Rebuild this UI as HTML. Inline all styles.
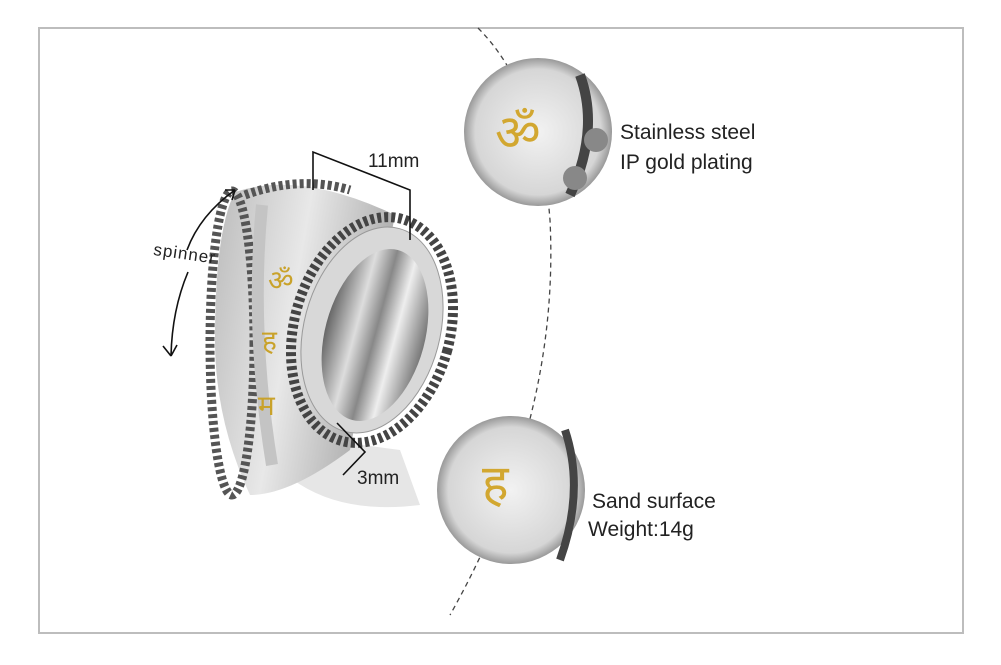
<!DOCTYPE html>
<html><head><meta charset="utf-8"><style>
body{margin:0;background:#fff;width:1001px;height:665px;overflow:hidden;font-family:"Liberation Sans",sans-serif}
.t{position:absolute;font-size:21px;color:#222}
</style></head><body>
<div style="position:absolute;left:38px;top:27px;width:922px;height:603px;border:2px solid #bdbdbd"></div>
<svg width="1001" height="665" style="position:absolute;left:0;top:0">
<defs>
<linearGradient id="band" x1="0" y1="0" x2="1" y2="0.3"><stop offset="0" stop-color="#bbb"/><stop offset=".5" stop-color="#e8e8e8"/><stop offset="1" stop-color="#aaa"/></linearGradient>
<linearGradient id="hole" x1="0" y1="0" x2="1" y2="0"><stop offset="0" stop-color="#666"/><stop offset=".3" stop-color="#ddd"/><stop offset=".5" stop-color="#888"/><stop offset=".7" stop-color="#eee"/><stop offset="1" stop-color="#777"/></linearGradient>
<radialGradient id="c1" cx=".5" cy=".5" r=".5"><stop offset="0" stop-color="#f2f2f2"/><stop offset=".85" stop-color="#d6d6d6"/><stop offset="1" stop-color="#999"/></radialGradient>
</defs>
<path d="M478 28 Q540 90 550 220 Q560 420 450 615" fill="none" stroke="#444" stroke-width="1.3" stroke-dasharray="5,4"/>
<path d="M250 430 Q300 520 420 505 L400 450 Z" fill="#e6e6e6"/>
<!-- ring body -->
<path d="M235 192 Q300 170 395 215 L350 450 Q290 495 250 495 Q215 420 215 340 Q215 230 235 192 Z" fill="url(#band)"/>
<ellipse cx="232" cy="343" rx="22" ry="152" fill="none" stroke="#555" stroke-width="9" stroke-dasharray="4,3"/>
<path d="M245 195 Q300 175 350 190" fill="none" stroke="#555" stroke-width="9" stroke-dasharray="4,3"/>
<path d="M262 205 Q250 330 272 465" fill="none" stroke="#c4c4c4" stroke-width="12"/>
<text x="268" y="290" font-size="28" fill="#c9a22a" font-family="serif">ॐ</text>
<text x="262" y="350" font-size="28" fill="#c9a22a" font-family="serif">ह</text>
<text x="258" y="415" font-size="28" fill="#c9a22a" font-family="serif">म</text>
<!-- right face -->
<ellipse cx="372" cy="330" rx="78" ry="115" transform="rotate(15 372 330)" fill="none" stroke="#444" stroke-width="10" stroke-dasharray="4,3"/>
<ellipse cx="372" cy="330" rx="68" ry="105" transform="rotate(15 372 330)" fill="#d8d8d8" stroke="#999"/>
<ellipse cx="375" cy="335" rx="50" ry="88" transform="rotate(15 375 335)" fill="url(#hole)"/>
<g stroke="#111" stroke-width="1.6" fill="none">
<path d="M313 190 L313 152 L410 190 L410 240"/>
<path d="M337 423 L365 452 L343 475"/>
<path d="M235 190 Q200 215 187 250 M235 190 l-10 0 M235 190 l-3 10"/>
<path d="M188 272 Q172 310 171 356 M171 356 l-8 -10 M171 356 l6 -11"/>
</g>
<circle cx="538" cy="132" r="74" fill="url(#c1)"/>
<path d="M580 75 Q600 130 570 195" stroke="#444" stroke-width="10" fill="none"/>
<circle cx="596" cy="140" r="12" fill="#888"/><circle cx="575" cy="178" r="12" fill="#888"/>
<text x="495" y="150" font-size="50" fill="#d2a730" font-family="serif">ॐ</text>
<circle cx="511" cy="490" r="74" fill="url(#c1)"/>
<path d="M565 430 Q585 490 560 560" stroke="#444" stroke-width="8" fill="none"/>
<text x="482" y="500" font-size="50" fill="#d2a730" font-family="serif">ह</text>
</svg>
<div class="t" style="left:620px;top:121px">Stainless steel</div>
<div class="t" style="left:620px;top:151px">IP gold plating</div>
<div class="t" style="left:592px;top:490px">Sand surface</div>
<div class="t" style="left:588px;top:518px">Weight:14g</div>
<div class="t" style="left:368px;top:151px;font-size:19px">11mm</div>
<div class="t" style="left:357px;top:468px;font-size:19px">3mm</div>
<div class="t" style="left:155px;top:240px;font-size:17px;letter-spacing:1px;transform:rotate(8deg);transform-origin:left top">spinner</div>
</body></html>
